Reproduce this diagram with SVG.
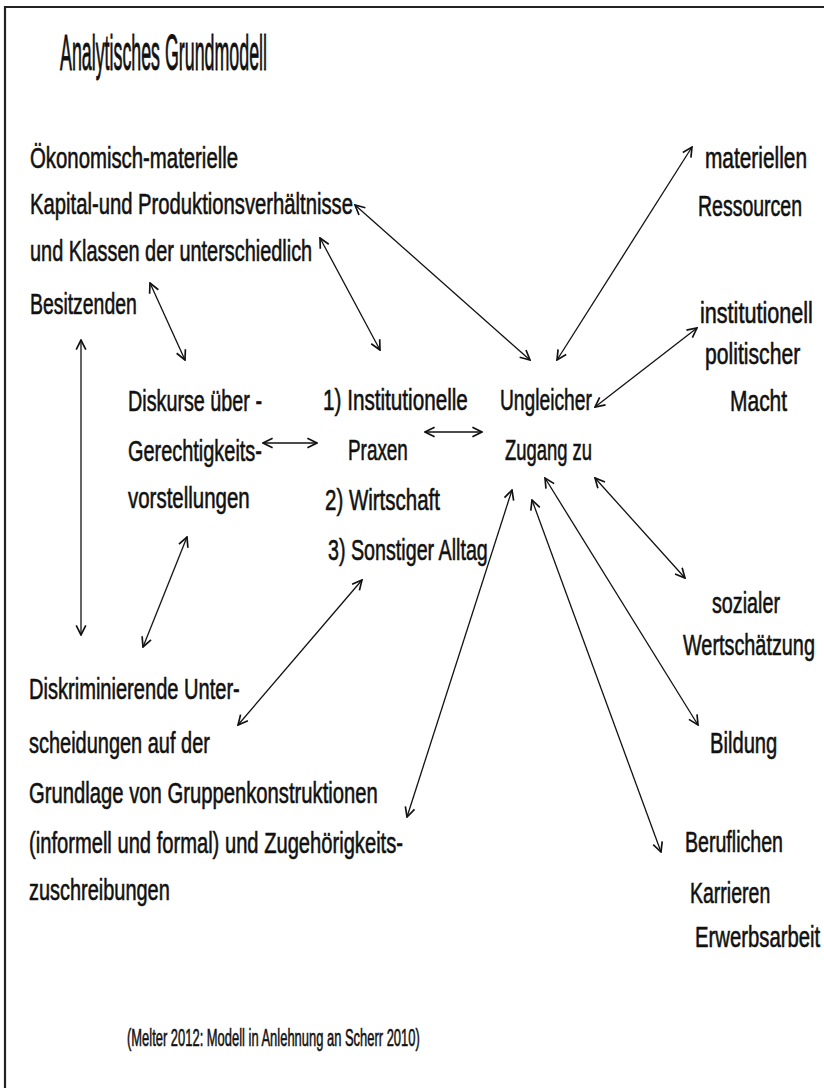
<svg xmlns="http://www.w3.org/2000/svg" width="824" height="1088" viewBox="0 0 824 1088">
<style>
text{font-family:"Liberation Sans",Arial,sans-serif;fill:#111;stroke:#111;stroke-width:0.6;}
.t{font-size:30px;}
.title{font-size:50px;stroke-width:0.9;}
.q{font-size:24px;}
.c line{stroke:#111;stroke-width:1.3;marker-start:url(#ah);marker-end:url(#ah);}
</style>
<defs>
<marker id="ah" markerWidth="12" markerHeight="12" refX="9" refY="5" orient="auto-start-reverse" markerUnits="userSpaceOnUse" viewBox="0 0 10 10">
<path d="M1,1 L9,5 L1,9" fill="none" stroke="#111" stroke-width="1.4"/>
</marker>
</defs>
<rect width="824" height="1088" fill="#fff"/>
<path d="M5,1088 V7 H824" fill="none" stroke="#222" stroke-width="2.2"/>
<g id="title"><text class="title" transform="matrix(0.36,0,0,1,60,70)" textLength="575" lengthAdjust="spacingAndGlyphs">Analytisches Grundmodell</text></g>
<g id="oekonomisch">
<text class="t" transform="matrix(0.68,0,0,1,30,168)" textLength="306" lengthAdjust="spacingAndGlyphs">Ökonomisch-materielle</text>
<text class="t" transform="matrix(0.68,0,0,1,30,214)" textLength="475" lengthAdjust="spacingAndGlyphs">Kapital-und Produktionsverhältnisse</text>
<text class="t" transform="matrix(0.68,0,0,1,30,261)" textLength="415" lengthAdjust="spacingAndGlyphs">und Klassen der unterschiedlich</text>
<text class="t" transform="matrix(0.68,0,0,1,30,314)" textLength="157" lengthAdjust="spacingAndGlyphs">Besitzenden</text>
</g>
<g id="diskurse">
<text class="t" transform="matrix(0.68,0,0,1,128,411)" textLength="197" lengthAdjust="spacingAndGlyphs">Diskurse über -</text>
<text class="t" transform="matrix(0.68,0,0,1,128,461)" textLength="197" lengthAdjust="spacingAndGlyphs">Gerechtigkeits-</text>
<text class="t" transform="matrix(0.68,0,0,1,128,508)" textLength="179" lengthAdjust="spacingAndGlyphs">vorstellungen</text>
</g>
<g id="praxen">
<text class="t" transform="matrix(0.68,0,0,1,323,410)" textLength="213" lengthAdjust="spacingAndGlyphs">1) Institutionelle</text>
<text class="t" transform="matrix(0.68,0,0,1,348,460)" textLength="88" lengthAdjust="spacingAndGlyphs">Praxen</text>
<text class="t" transform="matrix(0.68,0,0,1,325,510)" textLength="169" lengthAdjust="spacingAndGlyphs">2) Wirtschaft</text>
<text class="t" transform="matrix(0.68,0,0,1,328,560)" textLength="235" lengthAdjust="spacingAndGlyphs">3) Sonstiger Alltag</text>
</g>
<g id="zugang">
<text class="t" transform="matrix(0.68,0,0,1,500,410)" textLength="135" lengthAdjust="spacingAndGlyphs">Ungleicher</text>
<text class="t" transform="matrix(0.68,0,0,1,505,460)" textLength="128" lengthAdjust="spacingAndGlyphs">Zugang zu</text>
</g>
<g id="ressourcen">
<text class="t" transform="matrix(0.68,0,0,1,705,168)" textLength="150" lengthAdjust="spacingAndGlyphs">materiellen</text>
<text class="t" transform="matrix(0.68,0,0,1,698,216)" textLength="153" lengthAdjust="spacingAndGlyphs">Ressourcen</text>
</g>
<g id="macht">
<text class="t" transform="matrix(0.68,0,0,1,700,323)" textLength="166" lengthAdjust="spacingAndGlyphs">institutionell</text>
<text class="t" transform="matrix(0.68,0,0,1,705,364)" textLength="140" lengthAdjust="spacingAndGlyphs">politischer</text>
<text class="t" transform="matrix(0.68,0,0,1,730,411)" textLength="84" lengthAdjust="spacingAndGlyphs">Macht</text>
</g>
<g id="wertschaetzung">
<text class="t" transform="matrix(0.68,0,0,1,712,613)" textLength="100" lengthAdjust="spacingAndGlyphs">sozialer</text>
<text class="t" transform="matrix(0.68,0,0,1,683,655)" textLength="194" lengthAdjust="spacingAndGlyphs">Wertschätzung</text>
</g>
<g id="bildung"><text class="t" transform="matrix(0.68,0,0,1,710,753)" textLength="99" lengthAdjust="spacingAndGlyphs">Bildung</text></g>
<g id="karrieren">
<text class="t" transform="matrix(0.68,0,0,1,685,852)" textLength="144" lengthAdjust="spacingAndGlyphs">Beruflichen</text>
<text class="t" transform="matrix(0.68,0,0,1,690,903)" textLength="118" lengthAdjust="spacingAndGlyphs">Karrieren</text>
<text class="t" transform="matrix(0.68,0,0,1,695,947)" textLength="184" lengthAdjust="spacingAndGlyphs">Erwerbsarbeit</text>
</g>
<g id="diskriminierung">
<text class="t" transform="matrix(0.68,0,0,1,29,699)" textLength="310" lengthAdjust="spacingAndGlyphs">Diskriminierende Unter-</text>
<text class="t" transform="matrix(0.68,0,0,1,29,753)" textLength="266" lengthAdjust="spacingAndGlyphs">scheidungen auf der</text>
<text class="t" transform="matrix(0.68,0,0,1,29,803)" textLength="513" lengthAdjust="spacingAndGlyphs">Grundlage von Gruppenkonstruktionen</text>
<text class="t" transform="matrix(0.68,0,0,1,29,853)" textLength="550" lengthAdjust="spacingAndGlyphs">(informell und formal) und Zugehörigkeits-</text>
<text class="t" transform="matrix(0.68,0,0,1,29,900)" textLength="207" lengthAdjust="spacingAndGlyphs">zuschreibungen</text>
</g>
<g id="quelle"><text class="q" transform="matrix(0.52,0,0,1,127,1046)" textLength="563" lengthAdjust="spacingAndGlyphs">(Melter 2012: Modell in Anlehnung an Scherr 2010)</text></g>
<g id="connectors" class="c">
<line x1="355" y1="205" x2="530" y2="360"/>
<line x1="692" y1="147" x2="557" y2="360"/>
<line x1="697" y1="328" x2="595" y2="407"/>
<line x1="320" y1="238" x2="380" y2="350"/>
<line x1="150" y1="283" x2="185" y2="360"/>
<line x1="81" y1="340" x2="81" y2="635"/>
<line x1="263" y1="443" x2="317" y2="443"/>
<line x1="425" y1="432" x2="482" y2="432"/>
<line x1="187" y1="537" x2="143" y2="647"/>
<line x1="362" y1="580" x2="238" y2="725"/>
<line x1="512" y1="490" x2="407" y2="817"/>
<line x1="532" y1="500" x2="661" y2="852"/>
<line x1="545" y1="478" x2="698" y2="725"/>
<line x1="595" y1="478" x2="685" y2="578"/>
</g>
</svg>
